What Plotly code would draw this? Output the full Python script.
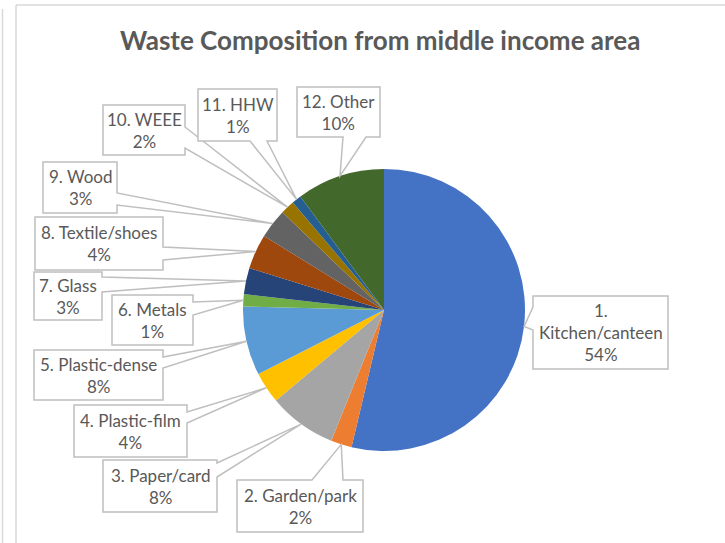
import math
import plotly.graph_objects as go

W, H = 725, 543

# ---------------- data ----------------
categories = ["1. Kitchen/canteen", "2. Garden/park", "3. Paper/card", "4. Plastic-film",
              "5. Plastic-dense", "6. Metals", "7. Glass", "8. Textile/shoes",
              "9. Wood", "10. WEEE", "11. HHW", "12. Other"]
values = [53.7, 2.4, 7.8, 3.6, 7.9, 1.4, 3.0, 4.0, 3.4, 1.6, 1.1, 10.1]
colors = ["#4472C4", "#ED7D31", "#A5A5A5", "#FFC000", "#5B9BD5", "#70AD47",
          "#264478", "#9E480E", "#636363", "#997300", "#255E91", "#43682B"]
# label line breaks as shown in the callouts
label_lines = [["1.", "Kitchen/canteen"], ["2. Garden/park"], ["3. Paper/card"],
               ["4. Plastic-film"], ["5. Plastic-dense"], ["6. Metals"], ["7. Glass"],
               ["8. Textile/shoes"], ["9. Wood"], ["10. WEEE"], ["11. HHW"], ["12. Other"]]
title = "Waste Composition from middle income area"

# ---------------- layout (pixels) ----------------
cx, cy, R = 384, 310, 141
FONT = "Lato, 'Open Sans', sans-serif"
TXT = "#595959"
LINE = "#BFBFBF"

# callout boxes: x0, y0, x1, y1, side of the tail, tail base start, tail base end
boxes = [
    (533, 296, 668, 369, "l", 307, 330),
    (237, 480, 363, 532, "t", 312, 343),
    (103, 460, 217, 512, "r", 463, 477),
    (74, 405, 187, 457, "r", 412, 423),
    (34, 350, 163, 400, "r", 357, 368),
    (112, 295, 193, 345, "r", 302, 315),
    (34, 272, 102, 320, "r", 277, 292),
    (35, 217, 163, 270, "r", 247, 260),
    (43, 162, 117, 213, "r", 193, 205),
    (103, 105, 185, 155, "r", 127, 148),
    (198, 89, 277, 141, "b", 250, 267),
    (297, 87, 380, 137, "b", 343, 366),
]


def px(x, y):
    return f"{x / W:.5f},{1 - y / H:.5f}"


fig = go.Figure()
fig.add_trace(go.Pie(
    labels=categories, values=values, sort=False, direction="clockwise", rotation=0,
    marker=dict(colors=colors, line=dict(width=0)), textinfo="none",
    showlegend=False,
    domain=dict(x=[(cx - R) / W, (cx + R) / W], y=[1 - (cy + R) / H, 1 - (cy - R) / H]),
))

shapes = []
annotations = []
total = sum(values)
cum = 0.0
for i, v in enumerate(values):
    mid = (cum + v / 2) / total
    cum += v
    th = 2 * math.pi * mid
    tx, ty = cx + R * math.sin(th), cy - R * math.cos(th)
    x0, y0, x1, y1, side, a, b = boxes[i]
    if side == "r":
        pts = [(x0, y0), (x1, y0), (x1, a), (tx, ty), (x1, b), (x1, y1), (x0, y1)]
    elif side == "l":
        pts = [(x0, y0), (x1, y0), (x1, y1), (x0, y1), (x0, b), (tx, ty), (x0, a)]
    elif side == "t":
        pts = [(x0, y0), (a, y0), (tx, ty), (b, y0), (x1, y0), (x1, y1), (x0, y1)]
    else:
        pts = [(x0, y0), (x1, y0), (x1, y1), (b, y1), (tx, ty), (a, y1), (x0, y1)]
    path = "M " + " L ".join(px(*p) for p in pts) + " Z"
    shapes.append(dict(type="path", path=path, xref="paper", yref="paper",
                       fillcolor="white", line=dict(color=LINE, width=1.5), layer="above"))
    pct = f"{round(v / total * 100)}%"
    text = "<br>".join(label_lines[i] + [pct])
    annotations.append(dict(text=text, x=(x0 + x1) / 2 / W, y=1 - (y0 + y1) / 2 / H,
                            xref="paper", yref="paper", xanchor="center", yanchor="middle",
                            showarrow=False, align="center",
                            font=dict(family=FONT, size=17, color=TXT)))

# chart frame lines
shapes.append(dict(type="line", xref="paper", yref="paper", x0=16 / W, x1=16 / W, y0=0, y1=1 - 5 / H,
                   line=dict(color="#D9D9D9", width=1.5)))
shapes.append(dict(type="line", xref="paper", yref="paper", x0=16 / W, x1=1, y0=1 - 5 / H, y1=1 - 5 / H,
                   line=dict(color="#D9D9D9", width=1.5)))
shapes.append(dict(type="line", xref="paper", yref="paper", x0=2.5 / W, x1=2.5 / W, y0=0, y1=1 - 9 / H,
                   line=dict(color="#D9D9D9", width=1.5)))

annotations.append(dict(text=f"<b>{title}</b>", x=380 / W, y=1 - 40 / H, xref="paper", yref="paper",
                        xanchor="center", yanchor="middle", showarrow=False,
                        font=dict(family=FONT, size=26, color=TXT)))

fig.update_layout(width=W, height=H, margin=dict(l=0, r=0, t=0, b=0),
                  paper_bgcolor="white", plot_bgcolor="white",
                  shapes=shapes, annotations=annotations)
fig.write_html("out.html", config={"displayModeBar": False},
               post_script="document.body.style.margin='0';document.body.style.overflow='hidden';")
